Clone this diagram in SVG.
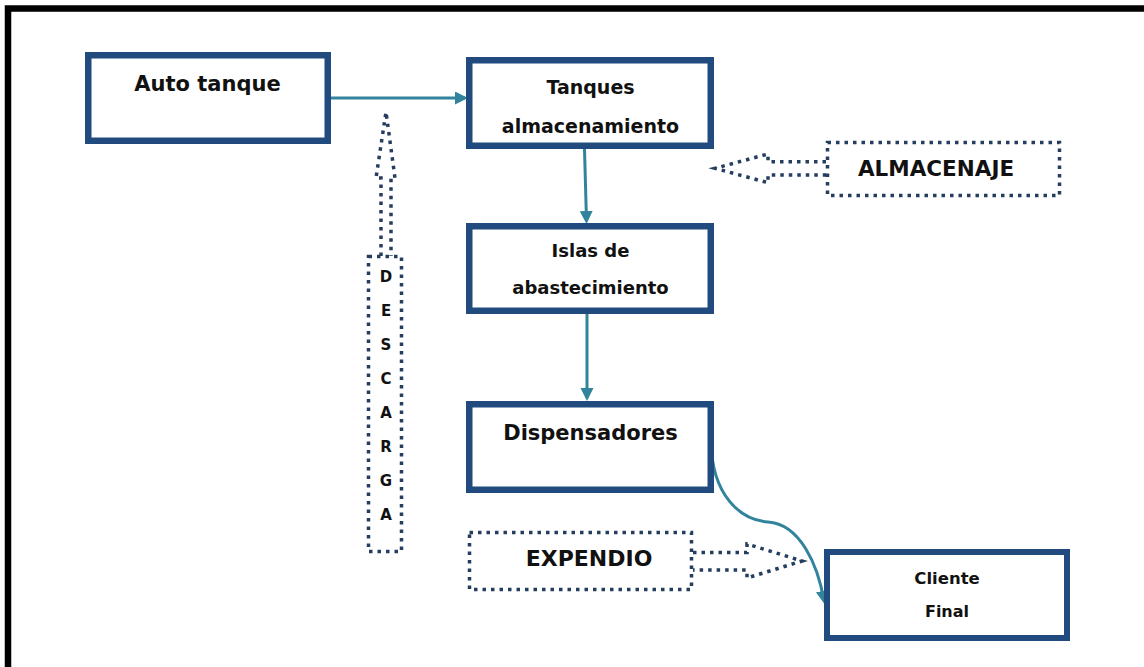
<svg xmlns="http://www.w3.org/2000/svg" width="1144" height="667" viewBox="0 0 1144 667">
<style>
.box{fill:#fff;stroke:#214A7E;stroke-width:6.5}
.dot{fill:none;stroke:#253D5E;stroke-width:3.5;stroke-dasharray:3.5 5}
.con{fill:none;stroke:#31849B;stroke-width:3}
text{font-family:"DejaVu Sans",Verdana,sans-serif;font-weight:bold;fill:#111;text-anchor:middle}
</style>
<defs>
<marker id="ah" markerUnits="userSpaceOnUse" markerWidth="14" markerHeight="14" refX="10" refY="6.5" orient="auto" viewBox="0 0 14 14">
<path d="M0,0 L13,6.5 L0,13 Z" fill="#31849B"/>
</marker>
</defs>
<rect width="1144" height="667" fill="#fff"/>
<path d="M8 667 L8 8.5 L1144 8.5" fill="none" stroke="#000" stroke-width="6.5"/>

<g id="connectors">
<path class="con" d="M331 98 L465 98" marker-end="url(#ah)"/>
<path class="con" d="M584.5 149 L586.5 221" marker-end="url(#ah)"/>
<path class="con" d="M587 314 L587 398" marker-end="url(#ah)"/>
<path class="con" d="M711 442 C712 495 740 520 768 522 C800 524 818 565 824 601" marker-end="url(#ah)"/>
</g>

<g id="auto-tanque">
<rect class="box" x="88.25" y="55.25" width="239.5" height="85.5"/>
<text x="207.5" y="91" font-size="21">Auto tanque</text>
</g>

<g id="tanques">
<rect class="box" x="469.25" y="60.25" width="241.5" height="85.5"/>
<text x="590.5" y="94" font-size="19">Tanques</text>
<text x="590.5" y="133" font-size="19">almacenamiento</text>
</g>

<g id="islas">
<rect class="box" x="469.25" y="226.25" width="241.5" height="84.5"/>
<text x="590.5" y="257" font-size="18">Islas de</text>
<text x="590.5" y="294" font-size="18">abastecimiento</text>
</g>

<g id="dispensadores">
<rect class="box" x="469.25" y="404.25" width="241.5" height="85.5"/>
<text x="590.5" y="440" font-size="21">Dispensadores</text>
</g>

<g id="cliente-final">
<rect class="box" x="827" y="552" width="240" height="86" style="stroke-width:6"/>
<text x="947" y="584" font-size="16.5">Cliente</text>
<text x="947" y="617" font-size="16">Final</text>
</g>

<g id="almacenaje">
<rect class="dot" x="827.5" y="142.5" width="232" height="53"/>
<path class="dot" d="M826 161.7 L768 161.7 L768 154 L715 168.3 L768 182.7 L768 175 L826 175"/>
<text x="936" y="176" font-size="21.5">ALMACENAJE</text>
</g>

<g id="expendio">
<rect class="dot" x="469.5" y="532.5" width="222" height="57"/>
<path class="dot" d="M693 552.5 L747 552.5 L747 544 L802 561 L747 578 L747 570 L693 570"/>
<text x="589" y="566" font-size="22">EXPENDIO</text>
</g>

<g id="descarga">
<rect class="dot" x="368.5" y="256.5" width="33" height="295"/>
<path class="dot" d="M381 256 L381 178 L376 178 L386 112 L395 178 L391 178 L391 256"/>
<text x="386" y="282" font-size="15">D</text>
<text x="386" y="316" font-size="15">E</text>
<text x="386" y="350" font-size="15">S</text>
<text x="386" y="384" font-size="15">C</text>
<text x="386" y="418" font-size="15">A</text>
<text x="386" y="452" font-size="15">R</text>
<text x="386" y="486" font-size="15">G</text>
<text x="386" y="520" font-size="15">A</text>
</g>
</svg>
